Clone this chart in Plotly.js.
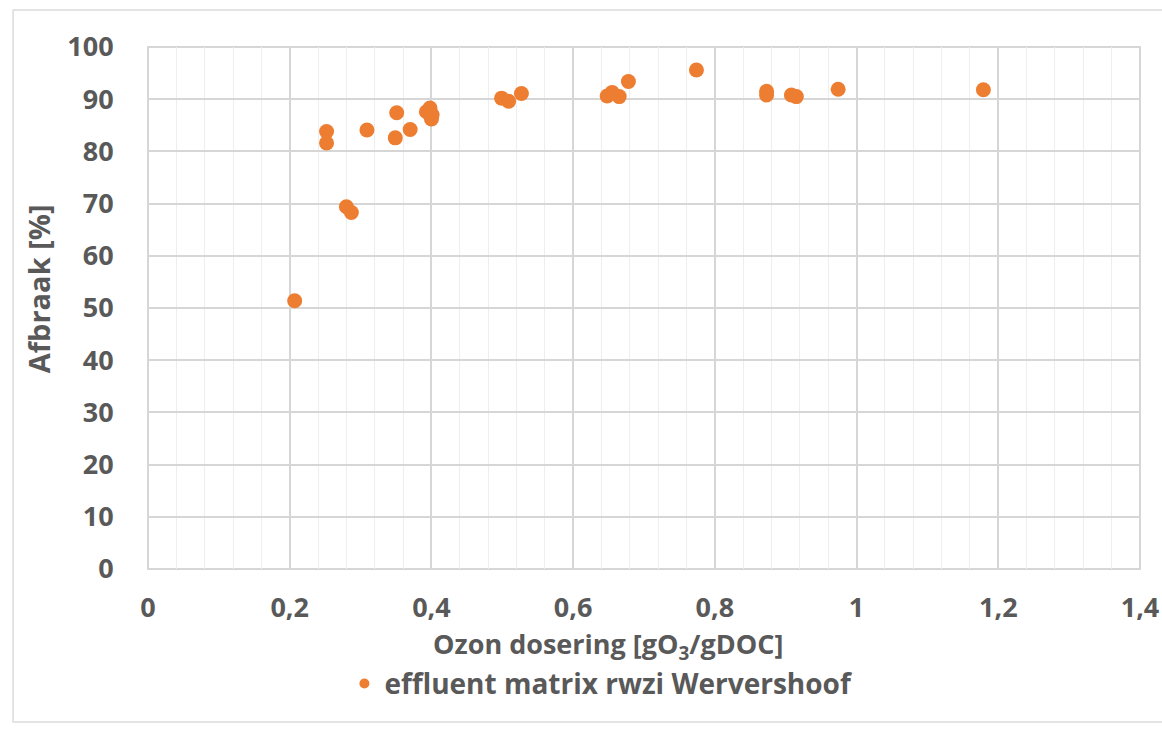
<!DOCTYPE html>
<html>
<head>
<meta charset="utf-8">
<script src="https://cdn.plot.ly/plotly-3.0.1.min.js"></script>
<style>html,body{margin:0;padding:0;background:#fff;}#chart{width:1162px;height:731px;}</style>
</head>
<body>
<div id="chart"></div>
<script>
const seriesName = "effluent matrix rwzi Wervershoof";
const ozonDose = [0.207, 0.252, 0.252, 0.280, 0.287, 0.309, 0.349, 0.351, 0.370, 0.393, 0.398, 0.401, 0.400,
                  0.499, 0.509, 0.527, 0.648, 0.655, 0.665, 0.678, 0.774, 0.873, 0.873, 0.908, 0.915, 0.974, 1.179];
const afbraak = [51.4, 83.8, 81.6, 69.4, 68.3, 84.1, 82.6, 87.4, 84.2, 87.6, 88.3, 87.0, 86.2,
                 90.2, 89.6, 91.1, 90.6, 91.3, 90.5, 93.4, 95.6, 91.5, 90.8, 90.8, 90.5, 91.9, 91.8];
const xTickVals = [0, 0.2, 0.4, 0.6, 0.8, 1, 1.2, 1.4];
const xTickText = ["0", "0,2", "0,4", "0,6", "0,8", "1", "1,2", "1,4"];
const yTickVals = [0, 10, 20, 30, 40, 50, 60, 70, 80, 90, 100];
const xTitle = "Ozon dosering [gO<sub>3</sub>/gDOC]";
const yTitle = "Afbraak [%]";

const grey = "#595959";
const orange = "#ED7D31";
const fontFam = "'Open Sans', 'Noto Sans', sans-serif";

const trace = {
  type: "scatter", mode: "markers", name: seriesName,
  x: ozonDose, y: afbraak,
  marker: {size: 15, color: orange},
  showlegend: false
};
// legend entry only (smaller symbol as in the reference)
const legendTrace = {
  type: "scatter", mode: "markers", name: seriesName,
  x: [null], y: [null],
  marker: {size: 10, color: orange},
  showlegend: true, hoverinfo: "skip"
};

const layout = {
  width: 1162, height: 731,
  margin: {l: 148, r: 22, t: 47, b: 162},
  paper_bgcolor: "#fff", plot_bgcolor: "#fff",
  font: {family: fontFam, color: grey},
  showlegend: true,
  legend: {orientation: "h", x: 0.198, xanchor: "left", y: -0.220, yanchor: "middle",
           itemwidth: 30,
           font: {size: 28, color: grey, family: fontFam, weight: "bold"}},
  xaxis: {
    range: [0, 1.4], tickvals: xTickVals, ticktext: xTickText,
    showgrid: true, gridcolor: "#d6d6d6", gridwidth: 2,
    minor: {dtick: 0.04, showgrid: true, gridcolor: "#eeeeee", gridwidth: 1, ticks: ""},
    zeroline: false, showline: false,
    ticks: "outside", ticklen: 15, tickcolor: "rgba(0,0,0,0)",
    tickfont: {size: 27, family: fontFam, color: grey, weight: "bold"}
  },
  yaxis: {
    range: [0, 100], tickvals: yTickVals,
    showgrid: true, gridcolor: "#d6d6d6", gridwidth: 2,
    zeroline: false, showline: false,
    ticks: "outside", ticklen: 28, tickcolor: "rgba(0,0,0,0)",
    tickfont: {size: 27, family: fontFam, color: grey, weight: "bold"}
  },
  shapes: [
    {type: "rect", xref: "paper", yref: "paper", x0: 0, x1: 1, y0: 0, y1: 1,
     line: {color: "#d6d6d6", width: 2}, layer: "below"},
    {type: "rect", xref: "paper", yref: "paper", x0: -0.136, x1: 1.06, y0: -0.293, y1: 1.0709,
     line: {color: "#dcdcdc", width: 1.5}}
  ],
  annotations: [
    {text: xTitle, xref: "paper", yref: "paper", x: 0.4637, y: -0.147, xanchor: "center", yanchor: "middle",
     showarrow: false, font: {size: 27, family: fontFam, color: grey, weight: "bold"}},
    {text: yTitle, xref: "paper", yref: "paper", x: -0.1109, y: 0.538, xanchor: "center", yanchor: "middle",
     textangle: -90, showarrow: false, font: {size: 29, family: fontFam, color: grey, weight: "bold"}}
  ]
};

Plotly.newPlot("chart", [trace, legendTrace], layout, {displayModeBar: false, staticPlot: true});
</script>
</body>
</html>
